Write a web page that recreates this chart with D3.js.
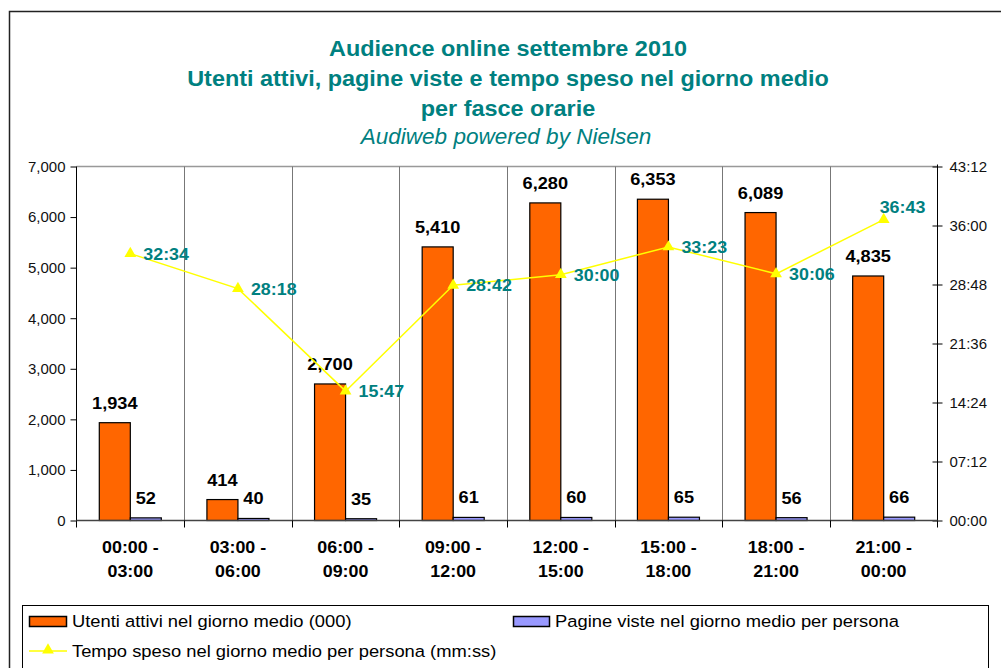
<!DOCTYPE html>
<html>
<head>
<meta charset="utf-8">
<script src="https://cdn.jsdelivr.net/npm/d3@7"></script>
<style>
  html, body { margin: 0; padding: 0; background: #fff; }
  svg { display: block; font-family: Arial, "Liberation Sans", sans-serif; }
</style>
</head>
<body>
<svg id="chart" width="1001" height="668"></svg>
<script>
const categories = [["00:00 -","03:00"],["03:00 -","06:00"],["06:00 -","09:00"],["09:00 -","12:00"],["12:00 -","15:00"],["15:00 -","18:00"],["18:00 -","21:00"],["21:00 -","00:00"]];
const utenti = [1934, 414, 2700, 5410, 6280, 6353, 6089, 4835];
const pagine = [52, 40, 35, 61, 60, 65, 56, 66];
const tempo = ["32:34", "28:18", "15:47", "28:42", "30:00", "33:23", "30:06", "36:43"];
const leftTicks = [0, 1000, 2000, 3000, 4000, 5000, 6000, 7000];
const rightTicks = ["00:00", "07:12", "14:24", "21:36", "28:48", "36:00", "43:12"];
const titleLines = ["Audience online settembre 2010", "Utenti attivi, pagine viste e tempo speso nel giorno medio", "per fasce orarie"];
const subtitle = "Audiweb powered by Nielsen";
const seriesNames = ["Utenti attivi nel giorno medio (000)", "Pagine viste nel giorno medio per persona", "Tempo speso nel giorno medio per persona (mm:ss)"];

const toSec = s => { const [m, ss] = s.split(":").map(Number); return m * 60 + ss; };
const fmt = v => { const m = Math.floor(v / 60), s = Math.round(v % 60); return String(m).padStart(2, "0") + ":" + String(s).padStart(2, "0"); };

// horizontal stretch of text around its anchor x
function stretch(sel, sx) {
  sel.each(function () {
    const t = d3.select(this);
    const xx = +t.attr("x");
    t.attr("transform", `translate(${xx},0) scale(${sx},1) translate(${-xx},0)`);
  });
  return sel;
}

const svg = d3.select("#chart");
const teal = "#008080", orange = "#FF6600", blue = "#9999FF", yellow = "#FFFF00";

// outer border
svg.append("path").attr("d", "M9.5,668 V11.5 H1001").attr("fill", "none").attr("stroke", "#222").attr("stroke-width", 1.5);

// titles
const tY = [56, 86, 116];
titleLines.forEach((t, i) => {
  stretch(svg.append("text").attr("x", 508).attr("y", tY[i]).attr("text-anchor", "middle")
    .attr("font-size", 22).attr("font-weight", "bold").attr("fill", teal).text(t), 1.065);
});
stretch(svg.append("text").attr("x", 506).attr("y", 144).attr("text-anchor", "middle")
  .attr("font-size", 22).attr("font-style", "italic").attr("fill", teal).text(subtitle), 1.025);

const L = 76.5, R = 937.5, T = 166.5, B = 520.5;
const x = d3.scaleBand().domain(d3.range(categories.length)).range([L, R]).paddingInner(0).paddingOuter(0);
const xs = d3.scaleBand().domain(["u", "p"]).range([0, x.bandwidth()]).paddingInner(0).paddingOuter(0.735);
const y = d3.scaleLinear().domain([0, 7000]).range([B, T]);
const y2 = d3.scaleLinear().domain([0, toSec("43:12")]).range([B, T]);

// top plot border
svg.append("line").attr("x1", L).attr("x2", R).attr("y1", T).attr("y2", T).attr("stroke", "#999").attr("stroke-width", 1.5);
// category separators
for (let i = 1; i < categories.length; i++) {
  const xx = Math.round(x(i)) + 0.5;
  svg.append("line").attr("x1", xx).attr("x2", xx).attr("y1", T).attr("y2", B).attr("stroke", "#777").attr("stroke-width", 1);
}

// bars
const g = svg.append("g");
g.selectAll("rect.u").data(utenti).join("rect").attr("class", "u")
  .attr("x", (d, i) => x(i) + xs("u")).attr("width", xs.bandwidth())
  .attr("y", d => y(d)).attr("height", d => B - y(d))
  .attr("fill", orange).attr("stroke", "#000").attr("stroke-width", 1.2);
g.selectAll("rect.p").data(pagine).join("rect").attr("class", "p")
  .attr("x", (d, i) => x(i) + xs("p")).attr("width", xs.bandwidth())
  .attr("y", d => y(d)).attr("height", d => B - y(d))
  .attr("fill", blue).attr("stroke", "#000").attr("stroke-width", 1.2);

// axes
const yAxis = d3.axisLeft(y).tickValues(leftTicks).tickSize(6).tickPadding(5).tickFormat(d3.format(","));
const ga = svg.append("g").attr("transform", `translate(${L},0)`).call(yAxis);
ga.select(".domain").attr("d", `M0,${T}V${B + 7}`).attr("stroke", "#000");
ga.selectAll("text").attr("font-size", 15).attr("fill", "#111").attr("font-family", "Arial, 'Liberation Sans', sans-serif");

const y2Axis = d3.axisRight(y2).tickValues(rightTicks.map(toSec)).tickSize(5).tickPadding(7).tickFormat(fmt);
const gb = svg.append("g").attr("transform", `translate(${R},0)`).call(y2Axis);
gb.select(".domain").attr("d", `M0,${T - 2}V${B + 7}`).attr("stroke", "#000");
gb.selectAll(".tick line").attr("x1", -5).attr("x2", 5);
gb.selectAll("text").attr("font-size", 15).attr("fill", "#111").attr("font-family", "Arial, 'Liberation Sans', sans-serif");

// x axis
svg.append("line").attr("x1", L).attr("x2", R).attr("y1", B).attr("y2", B).attr("stroke", "#444").attr("stroke-width", 1.5);
for (let i = 1; i < categories.length; i++) {
  const xx = Math.round(x(i)) + 0.5;
  svg.append("line").attr("x1", xx).attr("x2", xx).attr("y1", B).attr("y2", B + 7).attr("stroke", "#000");
}
categories.forEach((c, i) => {
  const cx = x(i) + x.bandwidth() / 2;
  stretch(svg.append("text").attr("x", cx).attr("y", 553).attr("text-anchor", "middle").attr("font-size", 17).attr("font-weight", "bold").attr("fill", "#000").text(c[0]), 1.05);
  stretch(svg.append("text").attr("x", cx).attr("y", 577).attr("text-anchor", "middle").attr("font-size", 17).attr("font-weight", "bold").attr("fill", "#000").text(c[1]), 1.05);
});

// bar labels
stretch(g.selectAll("text.ul").data(utenti).join("text").attr("class", "ul")
  .attr("x", (d, i) => x(i) + xs("u") + xs.bandwidth() / 2).attr("y", d => y(d) - 14)
  .attr("text-anchor", "middle").attr("font-size", 17).attr("font-weight", "bold").attr("fill", "#000")
  .text(d => d3.format(",")(d)), 1.07);
stretch(g.selectAll("text.pl").data(pagine).join("text").attr("class", "pl")
  .attr("x", (d, i) => x(i) + xs("p") + xs.bandwidth() / 2).attr("y", d => y(d) - 14)
  .attr("text-anchor", "middle").attr("font-size", 17).attr("font-weight", "bold").attr("fill", "#000")
  .text(d => d), 1.07);

// line
const cx = i => x(i) + x.bandwidth() / 2;
const line = d3.line().x((d, i) => cx(i)).y(d => y2(toSec(d)));
svg.append("path").datum(tempo).attr("d", line).attr("fill", "none").attr("stroke", yellow).attr("stroke-width", 1.5);
const tri = d3.symbol().type(d3.symbolTriangle).size(60);
svg.selectAll("path.m").data(tempo).join("path").attr("class", "m")
  .attr("transform", (d, i) => `translate(${cx(i)},${y2(toSec(d))})`).attr("d", tri).attr("fill", yellow);
stretch(svg.selectAll("text.tl").data(tempo).join("text").attr("class", "tl")
  .attr("x", (d, i) => i === tempo.length - 1 ? cx(i) - 4 : cx(i) + 13)
  .attr("y", (d, i) => i === tempo.length - 1 ? y2(toSec(d)) - 7 : y2(toSec(d)) + 6)
  .attr("font-size", 17).attr("font-weight", "bold").attr("fill", teal).text(d => d), 1.05);

// legend
svg.append("rect").attr("x", 22.5).attr("y", 605.5).attr("width", 966).attr("height", 80).attr("fill", "#fff").attr("stroke", "#000").attr("stroke-width", 1);
svg.append("rect").attr("x", 29.5).attr("y", 616.5).attr("width", 37).attr("height", 10).attr("fill", orange).attr("stroke", "#000").attr("stroke-width", 1.5);
stretch(svg.append("text").attr("x", 72).attr("y", 627).attr("font-size", 17).attr("fill", "#000").text(seriesNames[0]), 1.08);
svg.append("rect").attr("x", 513.5).attr("y", 616.5).attr("width", 36).attr("height", 10).attr("fill", blue).attr("stroke", "#000").attr("stroke-width", 1.5);
stretch(svg.append("text").attr("x", 555).attr("y", 627).attr("font-size", 17).attr("fill", "#000").text(seriesNames[1]), 1.08);
svg.append("line").attr("x1", 29).attr("x2", 67).attr("y1", 651).attr("y2", 651).attr("stroke", yellow).attr("stroke-width", 1.5);
svg.append("path").attr("transform", "translate(48,650)").attr("d", tri).attr("fill", yellow);
stretch(svg.append("text").attr("x", 72).attr("y", 657).attr("font-size", 17).attr("fill", "#000").text(seriesNames[2]), 1.08);
</script>
</body>
</html>
